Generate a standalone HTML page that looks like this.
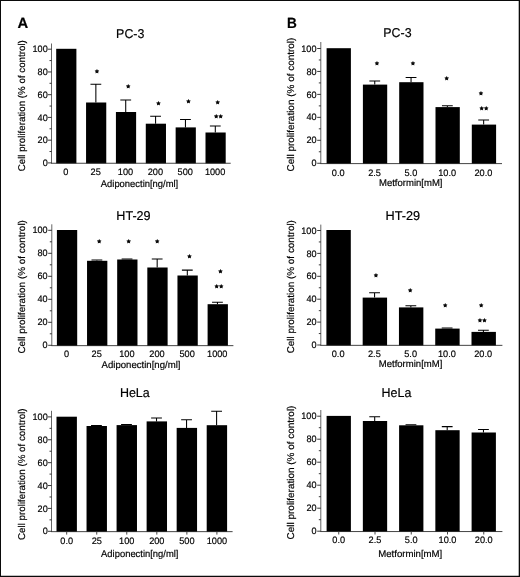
<!DOCTYPE html>
<html><head><meta charset="utf-8"><title>Figure</title>
<style>
html,body{margin:0;padding:0;background:#fff;}
svg{display:block;font-family:"Liberation Sans", sans-serif;fill:#000;text-rendering:geometricPrecision;}
text{stroke:#000;stroke-width:0.18px;}
</style></head>
<body>
<svg width="520" height="577" viewBox="0 0 520 577">
<rect x="0" y="0" width="520" height="577" fill="#fff"/>
<rect x="56.20" y="48.80" width="20.20" height="114.60" fill="#000"/>
<rect x="86.06" y="102.50" width="20.20" height="60.90" fill="#000"/>
<path d="M95.86 102.50V84.30M90.46 84.30H101.26" stroke="#000" stroke-width="1.05" fill="none"/>
<rect x="115.92" y="112.00" width="20.20" height="51.40" fill="#000"/>
<path d="M125.72 112.00V100.00M120.32 100.00H131.12" stroke="#000" stroke-width="1.05" fill="none"/>
<rect x="145.78" y="123.70" width="20.20" height="39.70" fill="#000"/>
<path d="M155.58 123.70V116.30M150.18 116.30H160.98" stroke="#000" stroke-width="1.05" fill="none"/>
<rect x="175.64" y="127.40" width="20.20" height="36.00" fill="#000"/>
<path d="M185.44 127.40V119.40M180.04 119.40H190.84" stroke="#000" stroke-width="1.05" fill="none"/>
<rect x="205.50" y="132.50" width="20.20" height="30.90" fill="#000"/>
<path d="M215.30 132.50V125.90M209.90 125.90H220.70" stroke="#000" stroke-width="1.05" fill="none"/>
<path d="M51.5 43.5V163.3" stroke="#555" stroke-width="0.9" fill="none"/>
<path d="M51.1 163.25H230.7" stroke="#222" stroke-width="0.85" fill="none"/>
<path d="M47.9 162.90H51.5" stroke="#222" stroke-width="0.9" fill="none"/>
<text transform="translate(47.70 166.00) scale(0.97 1)" text-anchor="end" font-size="9.4">0</text>
<path d="M49.5 151.53H51.5" stroke="#222" stroke-width="0.9" fill="none"/>
<path d="M47.9 140.16H51.5" stroke="#222" stroke-width="0.9" fill="none"/>
<text transform="translate(47.70 143.26) scale(0.97 1)" text-anchor="end" font-size="9.4">20</text>
<path d="M49.5 128.79H51.5" stroke="#222" stroke-width="0.9" fill="none"/>
<path d="M47.9 117.42H51.5" stroke="#222" stroke-width="0.9" fill="none"/>
<text transform="translate(47.70 120.52) scale(0.97 1)" text-anchor="end" font-size="9.4">40</text>
<path d="M49.5 106.05H51.5" stroke="#222" stroke-width="0.9" fill="none"/>
<path d="M47.9 94.68H51.5" stroke="#222" stroke-width="0.9" fill="none"/>
<text transform="translate(47.70 97.78) scale(0.97 1)" text-anchor="end" font-size="9.4">60</text>
<path d="M49.5 83.31H51.5" stroke="#222" stroke-width="0.9" fill="none"/>
<path d="M47.9 71.94H51.5" stroke="#222" stroke-width="0.9" fill="none"/>
<text transform="translate(47.70 75.04) scale(0.97 1)" text-anchor="end" font-size="9.4">80</text>
<path d="M49.5 60.57H51.5" stroke="#222" stroke-width="0.9" fill="none"/>
<path d="M47.9 49.20H51.5" stroke="#222" stroke-width="0.9" fill="none"/>
<text transform="translate(47.70 52.30) scale(0.97 1)" text-anchor="end" font-size="9.4">100</text>
<text transform="translate(65.80 175.10) scale(0.98 1)" text-anchor="middle" font-size="9.4">0</text>
<text transform="translate(95.66 175.10) scale(0.98 1)" text-anchor="middle" font-size="9.4">25</text>
<text transform="translate(125.52 175.10) scale(0.98 1)" text-anchor="middle" font-size="9.4">100</text>
<text transform="translate(155.38 175.10) scale(0.98 1)" text-anchor="middle" font-size="9.4">200</text>
<text transform="translate(185.24 175.10) scale(0.98 1)" text-anchor="middle" font-size="9.4">500</text>
<text transform="translate(215.10 175.10) scale(0.98 1)" text-anchor="middle" font-size="9.4">1000</text>
<text x="100.80" y="186.60" textLength="77.40" lengthAdjust="spacingAndGlyphs" font-size="9.8">Adiponectin[ng/ml]</text>
<text transform="translate(25.00 171.30) rotate(-90)" textLength="131.10" lengthAdjust="spacingAndGlyphs" font-size="9.8">Cell proliferation (% of control)</text>
<text x="116.10" y="37.50" textLength="28.30" lengthAdjust="spacingAndGlyphs" font-size="12.8">PC-3</text>
<text x="96.90" y="72.81" text-anchor="middle" font-size="4.9" letter-spacing="0" font-family="DejaVu Sans, sans-serif" fill="#000" style="stroke:#000;stroke-width:0.6px;stroke-linejoin:round">★</text>
<text x="128.30" y="87.91" text-anchor="middle" font-size="4.9" letter-spacing="0" font-family="DejaVu Sans, sans-serif" fill="#000" style="stroke:#000;stroke-width:0.6px;stroke-linejoin:round">★</text>
<text x="158.50" y="104.81" text-anchor="middle" font-size="4.9" letter-spacing="0" font-family="DejaVu Sans, sans-serif" fill="#000" style="stroke:#000;stroke-width:0.6px;stroke-linejoin:round">★</text>
<text x="188.50" y="103.41" text-anchor="middle" font-size="4.9" letter-spacing="0" font-family="DejaVu Sans, sans-serif" fill="#000" style="stroke:#000;stroke-width:0.6px;stroke-linejoin:round">★</text>
<text x="217.60" y="103.51" text-anchor="middle" font-size="4.9" letter-spacing="0" font-family="DejaVu Sans, sans-serif" fill="#000" style="stroke:#000;stroke-width:0.6px;stroke-linejoin:round">★</text>
<text x="218.60" y="118.21" text-anchor="middle" font-size="4.9" letter-spacing="0.2" font-family="DejaVu Sans, sans-serif" fill="#000" style="stroke:#000;stroke-width:0.6px;stroke-linejoin:round">★★</text>
<rect x="56.90" y="230.00" width="20.30" height="115.80" fill="#000"/>
<rect x="87.04" y="260.80" width="20.30" height="85.00" fill="#000"/>
<path d="M96.89 260.80V259.90M91.49 259.90H102.29" stroke="#000" stroke-width="1.05" fill="none"/>
<rect x="117.18" y="259.50" width="20.30" height="86.30" fill="#000"/>
<path d="M127.03 259.50V259.00M121.63 259.00H132.43" stroke="#000" stroke-width="1.05" fill="none"/>
<rect x="147.32" y="267.50" width="20.30" height="78.30" fill="#000"/>
<path d="M157.17 267.50V258.90M151.77 258.90H162.57" stroke="#000" stroke-width="1.05" fill="none"/>
<rect x="177.46" y="275.50" width="20.30" height="70.30" fill="#000"/>
<path d="M187.31 275.50V270.10M181.91 270.10H192.71" stroke="#000" stroke-width="1.05" fill="none"/>
<rect x="207.60" y="304.20" width="20.30" height="41.60" fill="#000"/>
<path d="M217.45 304.20V302.20M212.05 302.20H222.85" stroke="#000" stroke-width="1.05" fill="none"/>
<path d="M51.8 224.3V345.7" stroke="#555" stroke-width="0.9" fill="none"/>
<path d="M51.4 345.65000000000003H233.4" stroke="#222" stroke-width="0.85" fill="none"/>
<path d="M48.199999999999996 345.30H51.8" stroke="#222" stroke-width="0.9" fill="none"/>
<text transform="translate(47.60 348.40) scale(0.97 1)" text-anchor="end" font-size="9.4">0</text>
<path d="M49.8 333.80H51.8" stroke="#222" stroke-width="0.9" fill="none"/>
<path d="M48.199999999999996 322.30H51.8" stroke="#222" stroke-width="0.9" fill="none"/>
<text transform="translate(47.60 325.40) scale(0.97 1)" text-anchor="end" font-size="9.4">20</text>
<path d="M49.8 310.80H51.8" stroke="#222" stroke-width="0.9" fill="none"/>
<path d="M48.199999999999996 299.30H51.8" stroke="#222" stroke-width="0.9" fill="none"/>
<text transform="translate(47.60 302.40) scale(0.97 1)" text-anchor="end" font-size="9.4">40</text>
<path d="M49.8 287.80H51.8" stroke="#222" stroke-width="0.9" fill="none"/>
<path d="M48.199999999999996 276.30H51.8" stroke="#222" stroke-width="0.9" fill="none"/>
<text transform="translate(47.60 279.40) scale(0.97 1)" text-anchor="end" font-size="9.4">60</text>
<path d="M49.8 264.80H51.8" stroke="#222" stroke-width="0.9" fill="none"/>
<path d="M48.199999999999996 253.30H51.8" stroke="#222" stroke-width="0.9" fill="none"/>
<text transform="translate(47.60 256.40) scale(0.97 1)" text-anchor="end" font-size="9.4">80</text>
<path d="M49.8 241.80H51.8" stroke="#222" stroke-width="0.9" fill="none"/>
<path d="M48.199999999999996 230.30H51.8" stroke="#222" stroke-width="0.9" fill="none"/>
<text transform="translate(47.60 233.40) scale(0.97 1)" text-anchor="end" font-size="9.4">100</text>
<text transform="translate(66.55 357.30) scale(0.98 1)" text-anchor="middle" font-size="9.4">0</text>
<text transform="translate(96.69 357.30) scale(0.98 1)" text-anchor="middle" font-size="9.4">25</text>
<text transform="translate(126.83 357.30) scale(0.98 1)" text-anchor="middle" font-size="9.4">100</text>
<text transform="translate(156.97 357.30) scale(0.98 1)" text-anchor="middle" font-size="9.4">200</text>
<text transform="translate(187.11 357.30) scale(0.98 1)" text-anchor="middle" font-size="9.4">500</text>
<text transform="translate(217.25 357.30) scale(0.98 1)" text-anchor="middle" font-size="9.4">1000</text>
<text x="101.60" y="367.60" textLength="78.90" lengthAdjust="spacingAndGlyphs" font-size="9.8">Adiponectin[ng/ml]</text>
<text transform="translate(24.90 353.60) rotate(-90)" textLength="133.50" lengthAdjust="spacingAndGlyphs" font-size="9.8">Cell proliferation (% of control)</text>
<text x="116.30" y="220.20" textLength="34.30" lengthAdjust="spacingAndGlyphs" font-size="12.8">HT-29</text>
<text x="99.10" y="242.51" text-anchor="middle" font-size="4.9" letter-spacing="0" font-family="DejaVu Sans, sans-serif" fill="#000" style="stroke:#000;stroke-width:0.6px;stroke-linejoin:round">★</text>
<text x="128.60" y="242.51" text-anchor="middle" font-size="4.9" letter-spacing="0" font-family="DejaVu Sans, sans-serif" fill="#000" style="stroke:#000;stroke-width:0.6px;stroke-linejoin:round">★</text>
<text x="157.20" y="242.51" text-anchor="middle" font-size="4.9" letter-spacing="0" font-family="DejaVu Sans, sans-serif" fill="#000" style="stroke:#000;stroke-width:0.6px;stroke-linejoin:round">★</text>
<text x="189.50" y="257.71" text-anchor="middle" font-size="4.9" letter-spacing="0" font-family="DejaVu Sans, sans-serif" fill="#000" style="stroke:#000;stroke-width:0.6px;stroke-linejoin:round">★</text>
<text x="220.40" y="272.61" text-anchor="middle" font-size="4.9" letter-spacing="0" font-family="DejaVu Sans, sans-serif" fill="#000" style="stroke:#000;stroke-width:0.6px;stroke-linejoin:round">★</text>
<text x="219.10" y="287.61" text-anchor="middle" font-size="4.9" letter-spacing="0.2" font-family="DejaVu Sans, sans-serif" fill="#000" style="stroke:#000;stroke-width:0.6px;stroke-linejoin:round">★★</text>
<rect x="56.50" y="416.70" width="20.40" height="115.10" fill="#000"/>
<rect x="86.54" y="426.00" width="20.40" height="105.80" fill="#000"/>
<path d="M96.44 426.00V425.40M91.04 425.40H101.84" stroke="#000" stroke-width="1.05" fill="none"/>
<rect x="116.58" y="425.10" width="20.40" height="106.70" fill="#000"/>
<path d="M126.48 425.10V424.50M121.08 424.50H131.88" stroke="#000" stroke-width="1.05" fill="none"/>
<rect x="146.62" y="421.40" width="20.40" height="110.40" fill="#000"/>
<path d="M156.52 421.40V418.00M151.12 418.00H161.92" stroke="#000" stroke-width="1.05" fill="none"/>
<rect x="176.66" y="427.90" width="20.40" height="103.90" fill="#000"/>
<path d="M186.56 427.90V419.70M181.16 419.70H191.96" stroke="#000" stroke-width="1.05" fill="none"/>
<rect x="206.70" y="425.20" width="20.40" height="106.60" fill="#000"/>
<path d="M216.60 425.20V411.20M211.20 411.20H222.00" stroke="#000" stroke-width="1.05" fill="none"/>
<path d="M51.5 410.8V531.6999999999999" stroke="#555" stroke-width="0.9" fill="none"/>
<path d="M51.1 531.65H232.6" stroke="#222" stroke-width="0.85" fill="none"/>
<path d="M47.9 531.30H51.5" stroke="#222" stroke-width="0.9" fill="none"/>
<text transform="translate(47.70 534.40) scale(0.97 1)" text-anchor="end" font-size="9.4">0</text>
<path d="M49.5 519.86H51.5" stroke="#222" stroke-width="0.9" fill="none"/>
<path d="M47.9 508.42H51.5" stroke="#222" stroke-width="0.9" fill="none"/>
<text transform="translate(47.70 511.52) scale(0.97 1)" text-anchor="end" font-size="9.4">20</text>
<path d="M49.5 496.98H51.5" stroke="#222" stroke-width="0.9" fill="none"/>
<path d="M47.9 485.54H51.5" stroke="#222" stroke-width="0.9" fill="none"/>
<text transform="translate(47.70 488.64) scale(0.97 1)" text-anchor="end" font-size="9.4">40</text>
<path d="M49.5 474.10H51.5" stroke="#222" stroke-width="0.9" fill="none"/>
<path d="M47.9 462.66H51.5" stroke="#222" stroke-width="0.9" fill="none"/>
<text transform="translate(47.70 465.76) scale(0.97 1)" text-anchor="end" font-size="9.4">60</text>
<path d="M49.5 451.22H51.5" stroke="#222" stroke-width="0.9" fill="none"/>
<path d="M47.9 439.78H51.5" stroke="#222" stroke-width="0.9" fill="none"/>
<text transform="translate(47.70 442.88) scale(0.97 1)" text-anchor="end" font-size="9.4">80</text>
<path d="M49.5 428.34H51.5" stroke="#222" stroke-width="0.9" fill="none"/>
<path d="M47.9 416.90H51.5" stroke="#222" stroke-width="0.9" fill="none"/>
<text transform="translate(47.70 420.00) scale(0.97 1)" text-anchor="end" font-size="9.4">100</text>
<path d="M66.70 531.3V534.5999999999999" stroke="#333" stroke-width="0.9" fill="none"/>
<text transform="translate(66.70 543.60) scale(0.98 1)" text-anchor="middle" font-size="9.4">0.0</text>
<path d="M96.74 531.3V534.5999999999999" stroke="#333" stroke-width="0.9" fill="none"/>
<text transform="translate(96.74 543.60) scale(0.98 1)" text-anchor="middle" font-size="9.4">25</text>
<path d="M126.78 531.3V534.5999999999999" stroke="#333" stroke-width="0.9" fill="none"/>
<text transform="translate(126.78 543.60) scale(0.98 1)" text-anchor="middle" font-size="9.4">100</text>
<path d="M156.82 531.3V534.5999999999999" stroke="#333" stroke-width="0.9" fill="none"/>
<text transform="translate(156.82 543.60) scale(0.98 1)" text-anchor="middle" font-size="9.4">200</text>
<path d="M186.86 531.3V534.5999999999999" stroke="#333" stroke-width="0.9" fill="none"/>
<text transform="translate(186.86 543.60) scale(0.98 1)" text-anchor="middle" font-size="9.4">500</text>
<path d="M216.90 531.3V534.5999999999999" stroke="#333" stroke-width="0.9" fill="none"/>
<text transform="translate(216.90 543.60) scale(0.98 1)" text-anchor="middle" font-size="9.4">1000</text>
<text x="101.10" y="557.00" textLength="77.40" lengthAdjust="spacingAndGlyphs" font-size="9.8">Adiponectin[ng/ml]</text>
<text transform="translate(24.80 540.00) rotate(-90)" textLength="131.60" lengthAdjust="spacingAndGlyphs" font-size="9.8">Cell proliferation (% of control)</text>
<text x="119.90" y="396.60" textLength="29.80" lengthAdjust="spacingAndGlyphs" font-size="12.8">HeLa</text>
<rect x="326.60" y="48.20" width="24.30" height="115.55" fill="#000"/>
<rect x="362.90" y="84.60" width="24.30" height="79.15" fill="#000"/>
<path d="M374.75 84.60V80.90M369.35 80.90H380.15" stroke="#000" stroke-width="1.05" fill="none"/>
<rect x="399.20" y="82.20" width="24.30" height="81.55" fill="#000"/>
<path d="M411.05 82.20V77.50M405.65 77.50H416.45" stroke="#000" stroke-width="1.05" fill="none"/>
<rect x="435.50" y="107.10" width="24.30" height="56.65" fill="#000"/>
<path d="M447.35 107.10V105.80M441.95 105.80H452.75" stroke="#000" stroke-width="1.05" fill="none"/>
<rect x="471.80" y="124.60" width="24.30" height="39.15" fill="#000"/>
<path d="M483.65 124.60V120.00M478.25 120.00H489.05" stroke="#000" stroke-width="1.05" fill="none"/>
<path d="M320.8 42V163.65" stroke="#555" stroke-width="0.9" fill="none"/>
<path d="M320.40000000000003 163.6H502" stroke="#222" stroke-width="0.85" fill="none"/>
<path d="M317.2 163.25H320.8" stroke="#222" stroke-width="0.9" fill="none"/>
<text transform="translate(316.50 166.35) scale(0.97 1)" text-anchor="end" font-size="9.4">0</text>
<path d="M318.8 151.78H320.8" stroke="#222" stroke-width="0.9" fill="none"/>
<path d="M317.2 140.30H320.8" stroke="#222" stroke-width="0.9" fill="none"/>
<text transform="translate(316.50 143.40) scale(0.97 1)" text-anchor="end" font-size="9.4">20</text>
<path d="M318.8 128.82H320.8" stroke="#222" stroke-width="0.9" fill="none"/>
<path d="M317.2 117.35H320.8" stroke="#222" stroke-width="0.9" fill="none"/>
<text transform="translate(316.50 120.45) scale(0.97 1)" text-anchor="end" font-size="9.4">40</text>
<path d="M318.8 105.88H320.8" stroke="#222" stroke-width="0.9" fill="none"/>
<path d="M317.2 94.40H320.8" stroke="#222" stroke-width="0.9" fill="none"/>
<text transform="translate(316.50 97.50) scale(0.97 1)" text-anchor="end" font-size="9.4">60</text>
<path d="M318.8 82.92H320.8" stroke="#222" stroke-width="0.9" fill="none"/>
<path d="M317.2 71.45H320.8" stroke="#222" stroke-width="0.9" fill="none"/>
<text transform="translate(316.50 74.55) scale(0.97 1)" text-anchor="end" font-size="9.4">80</text>
<path d="M318.8 59.98H320.8" stroke="#222" stroke-width="0.9" fill="none"/>
<path d="M317.2 48.50H320.8" stroke="#222" stroke-width="0.9" fill="none"/>
<text transform="translate(316.50 51.60) scale(0.97 1)" text-anchor="end" font-size="9.4">100</text>
<text transform="translate(338.25 175.70) scale(0.98 1)" text-anchor="middle" font-size="9.4">0.0</text>
<text transform="translate(374.55 175.70) scale(0.98 1)" text-anchor="middle" font-size="9.4">2.5</text>
<text transform="translate(410.85 175.70) scale(0.98 1)" text-anchor="middle" font-size="9.4">5.0</text>
<text transform="translate(447.15 175.70) scale(0.98 1)" text-anchor="middle" font-size="9.4">10.0</text>
<text transform="translate(483.45 175.70) scale(0.98 1)" text-anchor="middle" font-size="9.4">20.0</text>
<text x="379.00" y="185.50" textLength="63.50" lengthAdjust="spacingAndGlyphs" font-size="9.8">Metformin[mM]</text>
<text transform="translate(294.00 171.50) rotate(-90)" textLength="133.90" lengthAdjust="spacingAndGlyphs" font-size="9.8">Cell proliferation (% of control)</text>
<text x="383.30" y="37.20" textLength="28.30" lengthAdjust="spacingAndGlyphs" font-size="12.8">PC-3</text>
<text x="376.90" y="64.81" text-anchor="middle" font-size="4.9" letter-spacing="0" font-family="DejaVu Sans, sans-serif" fill="#000" style="stroke:#000;stroke-width:0.6px;stroke-linejoin:round">★</text>
<text x="412.90" y="64.81" text-anchor="middle" font-size="4.9" letter-spacing="0" font-family="DejaVu Sans, sans-serif" fill="#000" style="stroke:#000;stroke-width:0.6px;stroke-linejoin:round">★</text>
<text x="446.80" y="80.21" text-anchor="middle" font-size="4.9" letter-spacing="0" font-family="DejaVu Sans, sans-serif" fill="#000" style="stroke:#000;stroke-width:0.6px;stroke-linejoin:round">★</text>
<text x="480.90" y="94.91" text-anchor="middle" font-size="4.9" letter-spacing="0" font-family="DejaVu Sans, sans-serif" fill="#000" style="stroke:#000;stroke-width:0.6px;stroke-linejoin:round">★</text>
<text x="484.10" y="110.01" text-anchor="middle" font-size="4.9" letter-spacing="0.2" font-family="DejaVu Sans, sans-serif" fill="#000" style="stroke:#000;stroke-width:0.6px;stroke-linejoin:round">★★</text>
<rect x="326.40" y="230.00" width="24.40" height="115.50" fill="#000"/>
<rect x="362.67" y="297.60" width="24.40" height="47.90" fill="#000"/>
<path d="M374.57 297.60V292.70M369.17 292.70H379.97" stroke="#000" stroke-width="1.05" fill="none"/>
<rect x="398.95" y="307.40" width="24.40" height="38.10" fill="#000"/>
<path d="M410.85 307.40V305.80M405.45 305.80H416.25" stroke="#000" stroke-width="1.05" fill="none"/>
<rect x="435.23" y="328.60" width="24.40" height="16.90" fill="#000"/>
<path d="M447.12 328.60V328.00M441.73 328.00H452.52" stroke="#000" stroke-width="1.05" fill="none"/>
<rect x="471.50" y="331.90" width="24.40" height="13.60" fill="#000"/>
<path d="M483.40 331.90V330.30M478.00 330.30H488.80" stroke="#000" stroke-width="1.05" fill="none"/>
<path d="M320.8 224.6V345.4" stroke="#555" stroke-width="0.9" fill="none"/>
<path d="M320.40000000000003 345.35H502.4" stroke="#222" stroke-width="0.85" fill="none"/>
<path d="M317.2 345.00H320.8" stroke="#222" stroke-width="0.9" fill="none"/>
<text transform="translate(316.50 348.10) scale(0.97 1)" text-anchor="end" font-size="9.4">0</text>
<path d="M318.8 333.55H320.8" stroke="#222" stroke-width="0.9" fill="none"/>
<path d="M317.2 322.10H320.8" stroke="#222" stroke-width="0.9" fill="none"/>
<text transform="translate(316.50 325.20) scale(0.97 1)" text-anchor="end" font-size="9.4">20</text>
<path d="M318.8 310.65H320.8" stroke="#222" stroke-width="0.9" fill="none"/>
<path d="M317.2 299.20H320.8" stroke="#222" stroke-width="0.9" fill="none"/>
<text transform="translate(316.50 302.30) scale(0.97 1)" text-anchor="end" font-size="9.4">40</text>
<path d="M318.8 287.75H320.8" stroke="#222" stroke-width="0.9" fill="none"/>
<path d="M317.2 276.30H320.8" stroke="#222" stroke-width="0.9" fill="none"/>
<text transform="translate(316.50 279.40) scale(0.97 1)" text-anchor="end" font-size="9.4">60</text>
<path d="M318.8 264.85H320.8" stroke="#222" stroke-width="0.9" fill="none"/>
<path d="M317.2 253.40H320.8" stroke="#222" stroke-width="0.9" fill="none"/>
<text transform="translate(316.50 256.50) scale(0.97 1)" text-anchor="end" font-size="9.4">80</text>
<path d="M318.8 241.95H320.8" stroke="#222" stroke-width="0.9" fill="none"/>
<path d="M317.2 230.50H320.8" stroke="#222" stroke-width="0.9" fill="none"/>
<text transform="translate(316.50 233.60) scale(0.97 1)" text-anchor="end" font-size="9.4">100</text>
<text transform="translate(338.10 356.60) scale(0.98 1)" text-anchor="middle" font-size="9.4">0.0</text>
<text transform="translate(374.37 356.60) scale(0.98 1)" text-anchor="middle" font-size="9.4">2.5</text>
<text transform="translate(410.65 356.60) scale(0.98 1)" text-anchor="middle" font-size="9.4">5.0</text>
<text transform="translate(446.93 356.60) scale(0.98 1)" text-anchor="middle" font-size="9.4">10.0</text>
<text transform="translate(483.20 356.60) scale(0.98 1)" text-anchor="middle" font-size="9.4">20.0</text>
<text x="378.80" y="366.50" textLength="63.50" lengthAdjust="spacingAndGlyphs" font-size="9.8">Metformin[mM]</text>
<text transform="translate(293.80 353.30) rotate(-90)" textLength="133.20" lengthAdjust="spacingAndGlyphs" font-size="9.8">Cell proliferation (% of control)</text>
<text x="385.60" y="220.20" textLength="34.60" lengthAdjust="spacingAndGlyphs" font-size="12.8">HT-29</text>
<text x="375.90" y="277.11" text-anchor="middle" font-size="4.9" letter-spacing="0" font-family="DejaVu Sans, sans-serif" fill="#000" style="stroke:#000;stroke-width:0.6px;stroke-linejoin:round">★</text>
<text x="410.30" y="291.81" text-anchor="middle" font-size="4.9" letter-spacing="0" font-family="DejaVu Sans, sans-serif" fill="#000" style="stroke:#000;stroke-width:0.6px;stroke-linejoin:round">★</text>
<text x="445.20" y="306.81" text-anchor="middle" font-size="4.9" letter-spacing="0" font-family="DejaVu Sans, sans-serif" fill="#000" style="stroke:#000;stroke-width:0.6px;stroke-linejoin:round">★</text>
<text x="481.20" y="306.81" text-anchor="middle" font-size="4.9" letter-spacing="0" font-family="DejaVu Sans, sans-serif" fill="#000" style="stroke:#000;stroke-width:0.6px;stroke-linejoin:round">★</text>
<text x="482.30" y="321.81" text-anchor="middle" font-size="4.9" letter-spacing="0.2" font-family="DejaVu Sans, sans-serif" fill="#000" style="stroke:#000;stroke-width:0.6px;stroke-linejoin:round">★★</text>
<rect x="326.60" y="415.90" width="24.30" height="115.80" fill="#000"/>
<rect x="362.85" y="421.00" width="24.30" height="110.70" fill="#000"/>
<path d="M374.70 421.00V416.80M369.30 416.80H380.10" stroke="#000" stroke-width="1.05" fill="none"/>
<rect x="399.10" y="425.30" width="24.30" height="106.40" fill="#000"/>
<path d="M410.95 425.30V424.80M405.55 424.80H416.35" stroke="#000" stroke-width="1.05" fill="none"/>
<rect x="435.35" y="430.20" width="24.30" height="101.50" fill="#000"/>
<path d="M447.20 430.20V426.60M441.80 426.60H452.60" stroke="#000" stroke-width="1.05" fill="none"/>
<rect x="471.60" y="432.50" width="24.30" height="99.20" fill="#000"/>
<path d="M483.45 432.50V429.50M478.05 429.50H488.85" stroke="#000" stroke-width="1.05" fill="none"/>
<path d="M320.8 410V531.6" stroke="#555" stroke-width="0.9" fill="none"/>
<path d="M320.40000000000003 531.5500000000001H502.4" stroke="#222" stroke-width="0.85" fill="none"/>
<path d="M317.2 531.20H320.8" stroke="#222" stroke-width="0.9" fill="none"/>
<text transform="translate(316.50 534.30) scale(0.97 1)" text-anchor="end" font-size="9.4">0</text>
<path d="M318.8 519.70H320.8" stroke="#222" stroke-width="0.9" fill="none"/>
<path d="M317.2 508.20H320.8" stroke="#222" stroke-width="0.9" fill="none"/>
<text transform="translate(316.50 511.30) scale(0.97 1)" text-anchor="end" font-size="9.4">20</text>
<path d="M318.8 496.70H320.8" stroke="#222" stroke-width="0.9" fill="none"/>
<path d="M317.2 485.20H320.8" stroke="#222" stroke-width="0.9" fill="none"/>
<text transform="translate(316.50 488.30) scale(0.97 1)" text-anchor="end" font-size="9.4">40</text>
<path d="M318.8 473.70H320.8" stroke="#222" stroke-width="0.9" fill="none"/>
<path d="M317.2 462.20H320.8" stroke="#222" stroke-width="0.9" fill="none"/>
<text transform="translate(316.50 465.30) scale(0.97 1)" text-anchor="end" font-size="9.4">60</text>
<path d="M318.8 450.70H320.8" stroke="#222" stroke-width="0.9" fill="none"/>
<path d="M317.2 439.20H320.8" stroke="#222" stroke-width="0.9" fill="none"/>
<text transform="translate(316.50 442.30) scale(0.97 1)" text-anchor="end" font-size="9.4">80</text>
<path d="M318.8 427.70H320.8" stroke="#222" stroke-width="0.9" fill="none"/>
<path d="M317.2 416.20H320.8" stroke="#222" stroke-width="0.9" fill="none"/>
<text transform="translate(316.50 419.30) scale(0.97 1)" text-anchor="end" font-size="9.4">100</text>
<path d="M338.75 531.2V534.5" stroke="#333" stroke-width="0.9" fill="none"/>
<text transform="translate(338.75 543.30) scale(0.98 1)" text-anchor="middle" font-size="9.4">0.0</text>
<path d="M375.00 531.2V534.5" stroke="#333" stroke-width="0.9" fill="none"/>
<text transform="translate(375.00 543.30) scale(0.98 1)" text-anchor="middle" font-size="9.4">2.5</text>
<path d="M411.25 531.2V534.5" stroke="#333" stroke-width="0.9" fill="none"/>
<text transform="translate(411.25 543.30) scale(0.98 1)" text-anchor="middle" font-size="9.4">5.0</text>
<path d="M447.50 531.2V534.5" stroke="#333" stroke-width="0.9" fill="none"/>
<text transform="translate(447.50 543.30) scale(0.98 1)" text-anchor="middle" font-size="9.4">10.0</text>
<path d="M483.75 531.2V534.5" stroke="#333" stroke-width="0.9" fill="none"/>
<text transform="translate(483.75 543.30) scale(0.98 1)" text-anchor="middle" font-size="9.4">20.0</text>
<text x="378.20" y="556.80" textLength="64.10" lengthAdjust="spacingAndGlyphs" font-size="9.8">Metformin[mM]</text>
<text transform="translate(294.30 539.40) rotate(-90)" textLength="133.80" lengthAdjust="spacingAndGlyphs" font-size="9.8">Cell proliferation (% of control)</text>
<text x="381.60" y="396.90" textLength="29.80" lengthAdjust="spacingAndGlyphs" font-size="12.8">HeLa</text>
<text x="17.6" y="27.7" font-size="14.8" font-weight="bold" fill="#000">A</text>
<text transform="translate(286.9 27.6) scale(0.92 1)" font-size="14.8" font-weight="bold" fill="#000">B</text>
<path d="M0 0H520V577H0Z M1 1V575.7H518.7V1Z" fill="#0a0a0a" fill-rule="evenodd"/>
</svg>
</body></html>
